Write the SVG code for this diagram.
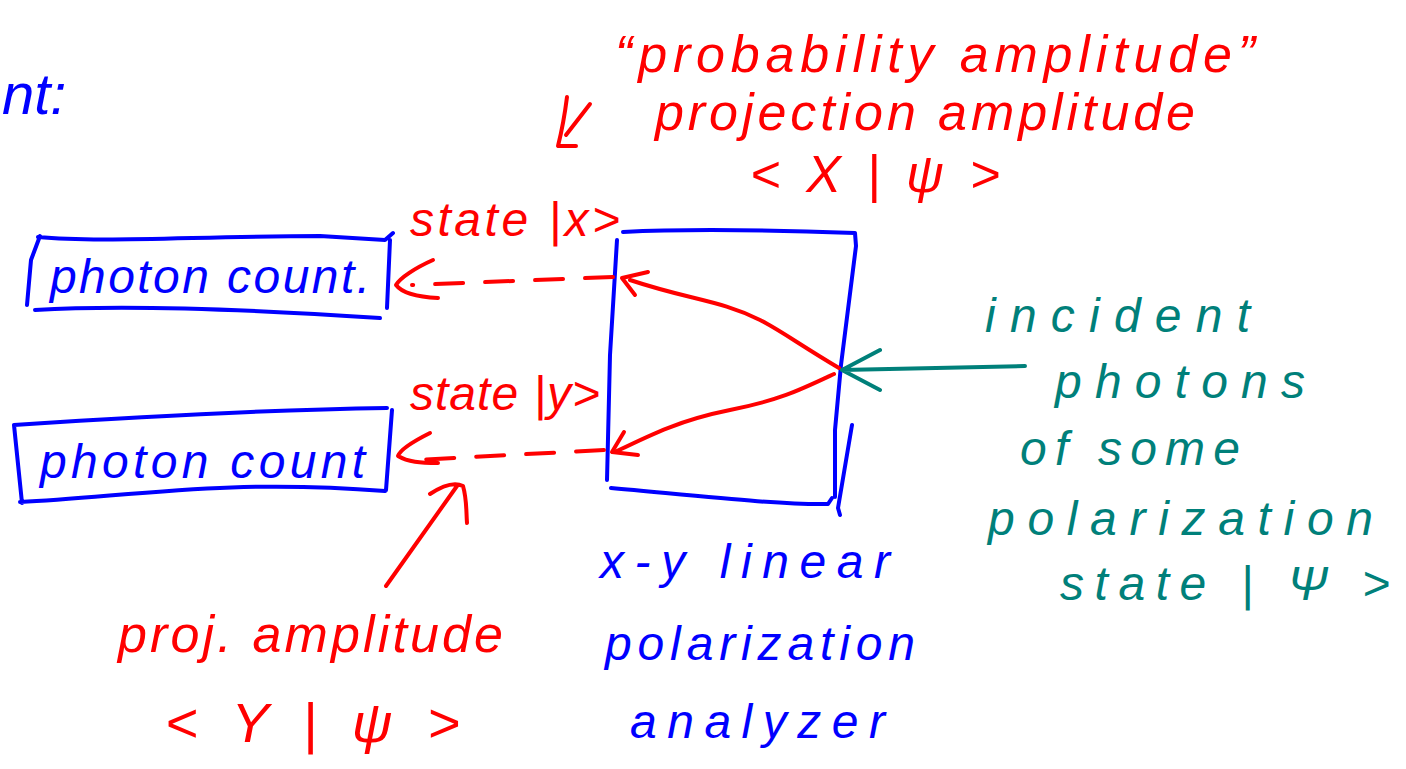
<svg xmlns="http://www.w3.org/2000/svg" width="1406" height="769" viewBox="0 0 1406 769">
<style>
.r{fill:#ff0000}.b{fill:#0000ff}.t{fill:#00807a}
text{font-family:"Liberation Sans","DejaVu Sans",sans-serif;font-style:italic}
.sr{stroke:#ff0000;fill:none;stroke-width:4;stroke-linecap:round;stroke-linejoin:round}
.sb{stroke:#0000ff;fill:none;stroke-width:4;stroke-linecap:round;stroke-linejoin:round}
.st{stroke:#00807a;fill:none;stroke-width:4;stroke-linecap:round;stroke-linejoin:round}
.d{stroke-dasharray:28 22}
</style>
<rect width="1406" height="769" fill="#fff"/>
<g id="cut-label"><text class="b" x="2" y="114" font-size="58">nt:</text></g>
<g id="top-label">
<text class="r" x="615" y="72" font-size="52" textLength="640" lengthAdjust="spacing">“probability amplitude”</text>
<text class="r" x="655" y="130" font-size="52" textLength="540" lengthAdjust="spacing">projection amplitude</text>
<text class="r" x="750" y="192" font-size="52" textLength="250" lengthAdjust="spacing">&lt; X | ψ &gt;</text>
<path class="sr" d="M590,104 L566,135 M567,97 C565,113 562,130 558,146 L576,146"/>
</g>
<g id="counter-x">
<path class="sb" d="M40,236 L31,260 L27,305 M38,237 C100,243 200,236 320,236 L385,240 L393,233 M390,240 L387,308 M35,310 C100,306 200,306 380,318"/>
<text class="b" x="50" y="293" font-size="48" textLength="320" lengthAdjust="spacing">photon count.</text>
</g>
<g id="counter-y">
<path class="sb" d="M14,425 L22,503 M14,425 C120,418 250,410 387,408 M392,410 L386,490 M20,502 C120,498 220,478 385,491"/>
<text class="b" x="40" y="478" font-size="48" textLength="325" lengthAdjust="spacing">photon count</text>
</g>
<g id="analyzer">
<path class="sb" d="M623,232 C700,228 800,231 855,233 L856,246 L841,365 L835,430 L835,497 M617,240 L610,355 L607,480 M611,488 C700,496 780,505 828,504 L832,498 M852,425 L838,508 L840,515"/>
<text class="b" x="600" y="578" font-size="48" textLength="290" lengthAdjust="spacing">x-y linear</text>
<text class="b" x="605" y="660" font-size="48" textLength="310" lengthAdjust="spacing">polarization</text>
<text class="b" x="630" y="738" font-size="48" textLength="255" lengthAdjust="spacing">analyzer</text>
</g>
<g id="source">
<text class="t" x="985" y="332" font-size="48" textLength="265" lengthAdjust="spacing">incident</text>
<text class="t" x="1055" y="398" font-size="48" textLength="250" lengthAdjust="spacing">photons</text>
<text class="t" x="1020" y="465" font-size="48" textLength="220" lengthAdjust="spacing">of some</text>
<text class="t" x="988" y="535" font-size="48" textLength="385" lengthAdjust="spacing">polarization</text>
<text class="t" x="1060" y="600" font-size="48" textLength="330" lengthAdjust="spacing">state | Ψ &gt;</text>
</g>
<g id="state-labels">
<text class="r" x="410" y="236" font-size="48" textLength="210" lengthAdjust="spacing">state |x&gt;</text>
<text class="r" x="410" y="410" font-size="48" textLength="190" lengthAdjust="spacing">state |y&gt;</text>
</g>
<g id="bottom-label">
<text class="r" x="118" y="652" font-size="52" textLength="385" lengthAdjust="spacing">proj. amplitude</text>
<text class="r" x="165" y="742" font-size="56" textLength="295" lengthAdjust="spacing">&lt; Y | ψ &gt;</text>
</g>
<g id="connectors">
<path class="sr d" d="M613,277 L412,285"/>
<path class="sr" d="M433,260 C415,268 400,278 396,285 C402,293 418,297 438,298"/>
<path class="sr d" d="M604,450 L415,460"/>
<path class="sr" d="M430,433 C412,442 400,450 398,456 C408,462 420,463 438,463"/>
<path class="sr" d="M839,368 C800,345 780,330 760,320 C720,300 690,300 630,280"/>
<path class="sr" d="M648,272 L622,278 L635,295"/>
<path class="sr" d="M834,374 C800,390 780,400 730,410 C680,420 650,435 615,452"/>
<path class="sr" d="M624,432 L612,452 L638,455"/>
<path class="st" d="M1025,366 L842,370 M880,350 L842,370 L880,390"/>
<path class="sr" d="M386,586 L457,486 M430,494 C445,484 455,482 463,486 C467,500 466,510 467,523"/>
</g>
</svg>
